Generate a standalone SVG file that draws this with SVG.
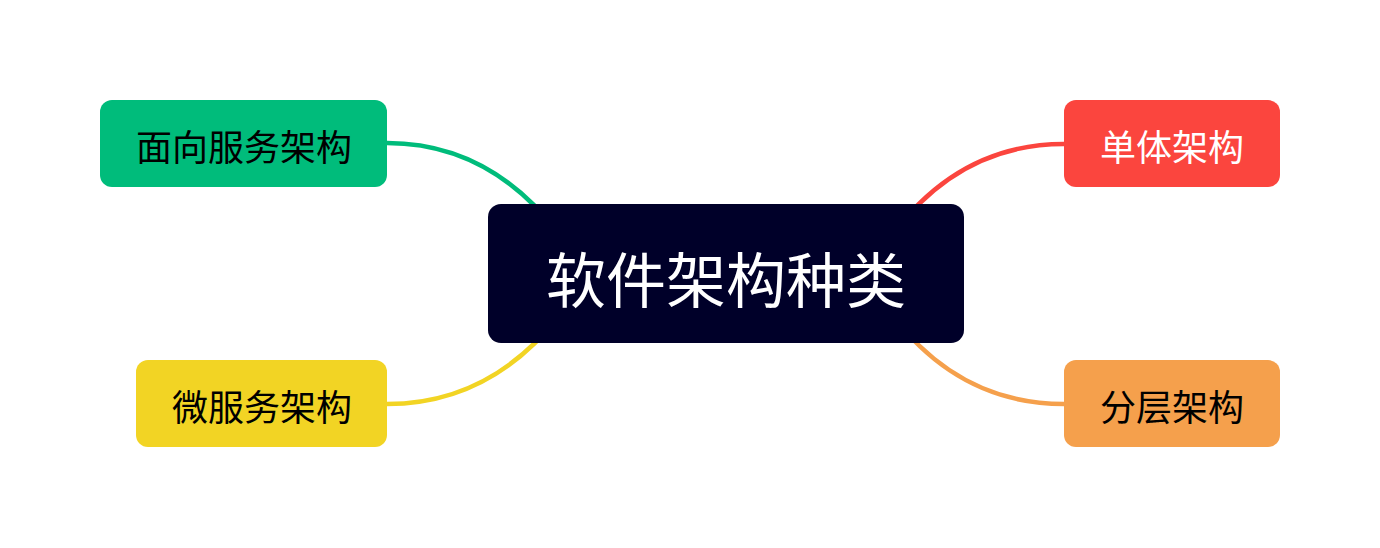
<svg xmlns="http://www.w3.org/2000/svg" width="1380" height="548" viewBox="0 0 1380 548">
<style>
.lbl{font-family:"Noto Sans CJK SC","Noto Sans",sans-serif;text-anchor:middle;dominant-baseline:central}
.child{font-size:36px}
.root{font-size:60px;fill:#ffffff}
.edge{fill:none;stroke-width:4.5;stroke-linecap:round}
</style>
<rect width="1380" height="548" fill="#ffffff"/>
<g id="connectors">
<path class="edge" stroke="#00BC7B" d="M 387 143 Q 490 143 560 235"/>
<path class="edge" stroke="#F2D424" d="M 387 404 Q 490 404 560 315"/>
<path class="edge" stroke="#FB453E" d="M 1064 144 Q 960 144 892 235"/>
<path class="edge" stroke="#F5A04C" d="M 1064 404 Q 960 404 892 315"/>
</g>
<g id="root">
<rect x="488" y="204" width="476" height="139" rx="13" fill="#000029"/>
<text class="lbl root" x="726" y="276">软件架构种类</text>
</g>
<g id="soa">
<rect x="100" y="100" width="287" height="87" rx="12" fill="#00BC7B"/>
<text class="lbl child" x="244" y="145" fill="#000000">面向服务架构</text>
</g>
<g id="micro">
<rect x="136" y="360" width="251" height="87" rx="12" fill="#F2D424"/>
<text class="lbl child" x="262" y="405" fill="#000000">微服务架构</text>
</g>
<g id="mono">
<rect x="1064" y="100" width="216" height="87" rx="12" fill="#FB453E"/>
<text class="lbl child" x="1172" y="145" fill="#ffffff">单体架构</text>
</g>
<g id="layered">
<rect x="1064" y="360" width="216" height="87" rx="12" fill="#F5A04C"/>
<text class="lbl child" x="1172" y="405" fill="#000000">分层架构</text>
</g>
</svg>
